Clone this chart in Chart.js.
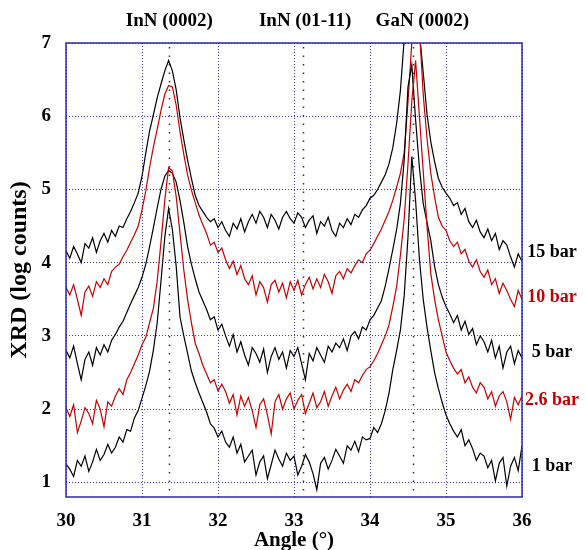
<!DOCTYPE html>
<html>
<head>
<meta charset="utf-8">
<script src="https://cdn.jsdelivr.net/npm/chart.js@4.4.1/dist/chart.umd.min.js"></script>
<style>
  html, body { margin: 0; padding: 0; background: #fff; }
</style>
</head>
<body>
<canvas id="xrdChart" width="586" height="550"></canvas>
<script>
// ============================================
// DATA (log counts)
// ============================================
const angles = [
  30.00, 30.05, 30.10, 30.15, 30.20, 30.25, 30.30, 30.35, 30.40, 30.45,
  30.50, 30.55, 30.60, 30.65, 30.70, 30.75, 30.80, 30.85, 30.90, 30.95,
  31.00, 31.05, 31.10, 31.15, 31.20, 31.25, 31.30, 31.35, 31.40, 31.45,
  31.50, 31.55, 31.60, 31.65, 31.70, 31.75, 31.80, 31.85, 31.90, 31.95,
  32.00, 32.05, 32.10, 32.15, 32.20, 32.25, 32.30, 32.35, 32.40, 32.45,
  32.50, 32.55, 32.60, 32.65, 32.70, 32.75, 32.80, 32.85, 32.90, 32.95,
  33.00, 33.05, 33.10, 33.15, 33.20, 33.25, 33.30, 33.35, 33.40, 33.45,
  33.50, 33.55, 33.60, 33.65, 33.70, 33.75, 33.80, 33.85, 33.90, 33.95,
  34.00, 34.05, 34.10, 34.15, 34.20, 34.25, 34.30, 34.35, 34.40, 34.45,
  34.50, 34.55, 34.60, 34.65, 34.70, 34.75, 34.80, 34.85, 34.90, 34.95,
  35.00, 35.05, 35.10, 35.15, 35.20, 35.25, 35.30, 35.35, 35.40, 35.45,
  35.50, 35.55, 35.60, 35.65, 35.70, 35.75, 35.80, 35.85, 35.90, 35.95,
  36.00
];

const bar1 = [
  1.25, 1.18, 1.08, 1.30, 1.22, 1.36, 1.15, 1.28, 1.45, 1.30,
  1.38, 1.52, 1.40, 1.48, 1.62, 1.55, 1.72, 1.70, 1.88, 1.98,
  2.15, 2.32, 2.52, 2.81, 3.18, 3.75, 4.35, 4.74, 4.45, 3.95,
  3.26, 3.00, 2.76, 2.52, 2.36, 2.22, 2.09, 1.96, 1.80, 1.74,
  1.62, 1.70, 1.55, 1.48, 1.62, 1.40, 1.52, 1.28, 1.36, 1.44,
  1.10, 1.28, 1.36, 1.05, 1.24, 1.44, 1.32, 1.22, 1.40, 1.30,
  1.36, 1.10, 1.22, 1.38, 1.28, 1.12, 0.90, 1.26, 1.34, 1.18,
  1.30, 1.45, 1.36, 1.26, 1.50, 1.44, 1.56, 1.42, 1.62, 1.58,
  1.60, 1.75, 1.68, 1.80, 1.98, 2.22, 2.54, 2.80, 3.08, 3.55,
  4.35, 5.45, 4.85, 4.05, 3.50, 3.12, 2.80, 2.50, 2.28, 2.09,
  1.92, 1.80, 1.70, 1.62, 1.72, 1.50, 1.58, 1.46, 1.30, 1.40,
  1.36, 1.20, 1.30, 1.02, 1.26, 1.34, 0.95, 1.22, 1.34, 1.16,
  1.50
];

const bar2_6 = [
  2.02, 1.90, 2.06, 1.68, 1.84, 2.02, 1.94, 1.80, 2.12, 2.00,
  1.76, 2.10, 2.04, 2.18, 2.28, 2.20, 2.40, 2.50, 2.62, 2.74,
  2.88, 2.98, 3.18, 3.38, 3.75, 4.28, 4.85, 5.30, 5.25, 4.90,
  4.40, 3.90, 3.50, 3.18, 2.90, 2.76, 2.60, 2.48, 2.36, 2.40,
  2.25, 2.34, 2.24, 2.08, 2.20, 1.92, 2.18, 2.04, 2.16, 1.98,
  1.75, 2.06, 2.14, 1.92, 1.66, 2.10, 2.20, 2.00, 2.14, 2.22,
  2.00, 2.12, 2.20, 1.94, 2.08, 2.22, 2.02, 2.10, 2.24, 2.04,
  2.18, 2.30, 2.14, 2.26, 2.34, 2.24, 2.40, 2.36, 2.46, 2.54,
  2.58, 2.66, 2.76, 2.88, 3.00, 3.15, 3.40, 3.67, 4.10, 4.60,
  5.35, 6.20, 6.76, 6.00, 5.25, 4.50, 3.85, 3.50, 3.22, 3.00,
  2.78, 2.66, 2.56, 2.48, 2.54, 2.36, 2.44, 2.30, 2.22, 2.36,
  2.30, 2.14, 2.24, 2.04, 2.18, 2.24, 2.10, 1.86, 2.16, 2.06,
  2.18
];

const bar5 = [
  2.80, 2.70, 2.86, 2.62, 2.40, 2.68, 2.78, 2.60, 2.84, 2.74,
  2.88, 2.78, 2.94, 3.02, 3.12, 3.20, 3.32, 3.44, 3.55, 3.66,
  3.80, 3.98, 4.22, 4.48, 4.75, 5.00, 5.18, 5.26, 5.22, 5.10,
  4.85, 4.55, 4.22, 3.98, 3.78, 3.60, 3.48, 3.36, 3.22, 3.26,
  3.08, 3.16, 3.00, 2.86, 3.02, 2.78, 2.92, 2.74, 2.60, 2.84,
  2.76, 2.64, 2.82, 2.50, 2.72, 2.84, 2.68, 2.78, 2.56, 2.80,
  2.72, 2.84, 2.62, 2.40, 2.76, 2.66, 2.84, 2.74, 2.64, 2.86,
  2.78, 2.90, 2.84, 2.96, 2.80, 3.00, 3.06, 2.96, 3.12, 3.08,
  3.22, 3.28, 3.38, 3.48, 3.68, 3.92, 4.18, 4.45, 4.81, 5.40,
  6.40, 6.70, 5.95, 5.30, 4.81, 4.55, 4.30, 3.95, 3.70, 3.53,
  3.40, 3.30, 3.18, 3.28, 3.08, 3.20, 3.02, 3.10, 2.88, 3.00,
  2.92, 2.78, 2.94, 2.70, 2.86, 2.56, 2.78, 2.86, 2.62, 2.80,
  2.70
];

const bar10 = [
  3.66, 3.56, 3.70, 3.50, 3.28, 3.60, 3.68, 3.54, 3.74, 3.66,
  3.78, 3.70, 3.88, 3.94, 3.98, 4.08, 4.17, 4.28, 4.38, 4.50,
  4.72, 4.98, 5.30, 5.58, 5.82, 6.08, 6.30, 6.42, 6.40, 6.15,
  5.79, 5.48, 5.20, 4.99, 4.82, 4.65, 4.52, 4.40, 4.24, 4.28,
  4.14, 4.20, 4.04, 3.92, 4.02, 3.84, 3.96, 3.78, 3.70, 3.82,
  3.56, 3.74, 3.66, 3.46, 3.70, 3.76, 3.60, 3.72, 3.52, 3.74,
  3.62, 3.76, 3.56, 3.70, 3.80, 3.64, 3.78, 3.66, 3.84, 3.74,
  3.58, 3.82, 3.88, 3.78, 3.92, 3.86, 3.96, 4.04, 4.00, 4.12,
  4.17, 4.26, 4.36, 4.46, 4.58, 4.70, 4.85, 5.03, 5.22, 5.50,
  6.20, 7.00, 7.50, 7.20, 6.30, 5.70, 5.22, 4.90, 4.62, 4.50,
  4.44, 4.30, 4.22, 4.28, 4.12, 4.18, 4.02, 3.94, 4.04, 3.88,
  3.80, 3.90, 3.70, 3.78, 3.58, 3.72, 3.62, 3.50, 3.40, 3.62,
  3.50
];

const bar15 = [
  4.16, 4.06, 4.22, 4.12, 4.00, 4.26, 4.20, 4.34, 4.14, 4.30,
  4.40, 4.28, 4.44, 4.36, 4.50, 4.48, 4.60, 4.70, 4.82, 4.95,
  5.18, 5.50, 5.80, 6.02, 6.25, 6.44, 6.62, 6.76, 6.62, 6.36,
  5.98, 5.68, 5.40, 5.15, 4.92, 4.78, 4.70, 4.62, 4.56, 4.60,
  4.48, 4.56, 4.44, 4.36, 4.54, 4.46, 4.60, 4.42, 4.56, 4.66,
  4.54, 4.70, 4.62, 4.48, 4.66, 4.58, 4.46, 4.62, 4.70, 4.60,
  4.54, 4.68, 4.62, 4.48, 4.58, 4.64, 4.40, 4.56, 4.50, 4.62,
  4.44, 4.36, 4.54, 4.48, 4.60, 4.52, 4.66, 4.62, 4.72, 4.78,
  4.88, 4.92, 5.00, 5.10, 5.20, 5.35, 5.57, 5.90, 6.35, 7.05,
  7.60, 7.90, 7.70, 7.15, 6.60, 6.03, 5.65, 5.38, 5.15, 5.03,
  4.95, 4.88, 4.78, 4.82, 4.66, 4.74, 4.56, 4.48, 4.58, 4.42,
  4.34, 4.46, 4.30, 4.40, 4.18, 4.30, 4.24, 4.08, 3.94, 4.12,
  4.02
];

const seriesNames = ['1 bar', '2.6 bar', '5 bar', '10 bar', '15 bar'];
const seriesColors = ['#000000', '#c40000', '#000000', '#c40000', '#000000'];
const labelLevels = [1.22, 2.12, 2.78, 3.52, 4.14];   // where each end label sits (log counts)

const peakNames = ['InN (0002)', 'InN (01-11)', 'GaN (0002)'];
const peakAngles = [31.36, 33.12, 34.57];

const xTicks = [30, 31, 32, 33, 34, 35, 36];
const yTicks = [1, 2, 3, 4, 5, 6, 7];

// ============================================
// CHART
// ============================================
const SERIF = '"Liberation Serif", "Times New Roman", serif';
const GRID_BLUE = '#3b3bc4';

function toPoints(values) {
  return angles.map((a, i) => ({ x: a, y: values[i] }));
}

// dotted peak markers, blue frame, and all the free text
const decorations = {
  id: 'decorations',
  beforeDatasetsDraw(chart) {
    const { ctx, chartArea: area, scales: { x } } = chart;
    ctx.save();
    ctx.strokeStyle = '#333';
    ctx.lineWidth = 1.5;
    ctx.setLineDash([1.5, 7]);
    peakAngles.forEach(function(v) {
      const px = Math.round(x.getPixelForValue(v)) + 0.5;
      ctx.beginPath();
      ctx.moveTo(px, area.top + 4);
      ctx.lineTo(px, area.bottom);
      ctx.stroke();
    });
    ctx.restore();
  },
  afterDraw(chart) {
    const { ctx, chartArea: area, scales: { x, y } } = chart;
    ctx.save();
    ctx.strokeStyle = '#2a2aa8';
    ctx.lineWidth = 1.5;
    ctx.strokeRect(area.left, area.top, area.right - area.left, area.bottom - area.top);

    ctx.textAlign = 'center';
    ctx.textBaseline = 'middle';

    // peak names above the plot
    ctx.fillStyle = '#000';
    ctx.font = 'bold 19px ' + SERIF;
    const nudge = [0, 2, 9];
    peakNames.forEach(function(t, i) {
      ctx.fillText(t, x.getPixelForValue(peakAngles[i]) + nudge[i], 21);
    });

    // pressure labels on the right
    ctx.font = 'bold 18px ' + SERIF;
    seriesNames.forEach(function(t, i) {
      ctx.fillStyle = seriesColors[i];
      ctx.fillText(t, area.right + 30, y.getPixelForValue(labelLevels[i]));
    });

    // axis titles
    ctx.fillStyle = '#000';
    ctx.font = 'bold 21px ' + SERIF;
    ctx.fillText('Angle (\u00b0)', (area.left + area.right) / 2, 541);
    ctx.translate(20, (area.top + area.bottom) / 2);
    ctx.rotate(-Math.PI / 2);
    ctx.font = 'bold 24px ' + SERIF;
    ctx.fillText('XRD (log counts)', 0, 0);
    ctx.restore();
  }
};

const datasets = [bar1, bar2_6, bar5, bar10, bar15].map(function(values, i) {
  return {
    label: seriesNames[i],
    data: toPoints(values),
    borderColor: seriesColors[i],
    borderWidth: 1.2,
    pointRadius: 0,
    tension: 0,
    fill: false
  };
});

const tickFont = { family: SERIF, size: 19, weight: 'bold' };

new Chart(document.getElementById('xrdChart'), {
  type: 'line',
  data: { datasets: datasets },
  options: {
    responsive: false,
    animation: false,
    layout: { padding: { left: 0, right: 64, top: 43, bottom: 0 } },
    plugins: {
      legend: { display: false },
      tooltip: { enabled: false }
    },
    scales: {
      x: {
        type: 'linear',
        min: 30,
        max: 36,
        afterBuildTicks: function(s) { s.ticks = xTicks.map(v => ({ value: v })); },
        afterFit: function(s) { s.height = 53; },
        grid: { color: GRID_BLUE, lineWidth: 1, drawTicks: false },
        border: { display: false, dash: [1, 2] },
        ticks: { font: tickFont, color: '#000', padding: 13 }
      },
      y: {
        type: 'linear',
        min: 0.8,
        max: 7,
        afterBuildTicks: function(s) { s.ticks = yTicks.map(v => ({ value: v })); },
        afterFit: function(s) { s.width = 66; },
        grid: { color: GRID_BLUE, lineWidth: 1, drawTicks: false },
        border: { display: false, dash: [1, 2] },
        ticks: { font: tickFont, color: '#000', padding: 15 }
      }
    }
  },
  plugins: [decorations]
});
</script>
</body>
</html>
